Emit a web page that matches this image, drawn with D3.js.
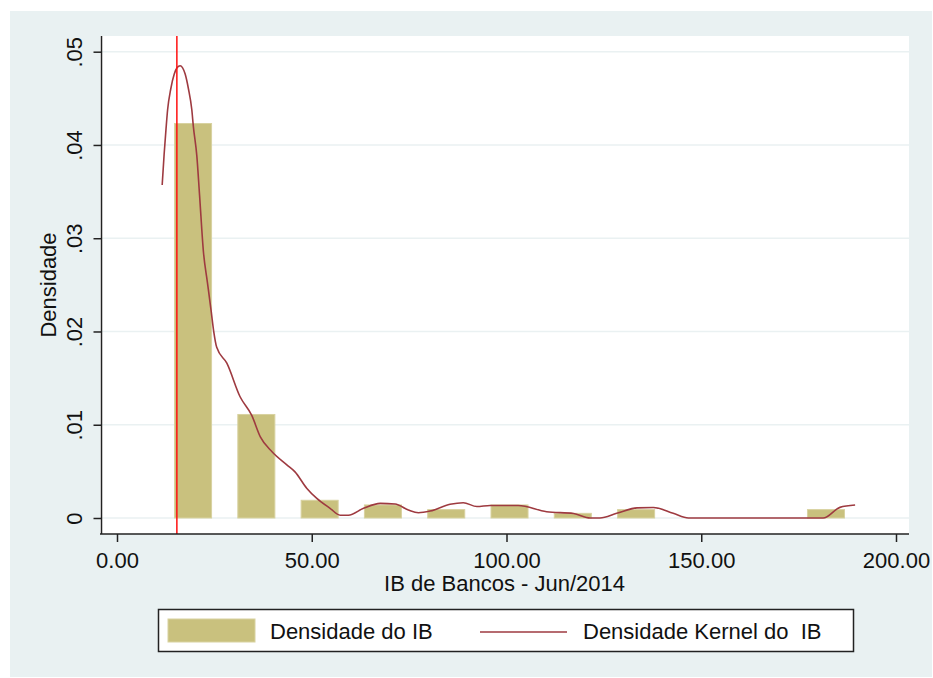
<!DOCTYPE html>
<html>
<head>
<meta charset="utf-8">
<script src="https://cdn.jsdelivr.net/npm/d3@7"></script>
<style>
  body { margin: 0; background: #fff; }
  text { font-family: Arial, "Liberation Sans", sans-serif; fill: #111; }
</style>
</head>
<body>
<div id="chart"></div>
<script>
// Histogram bins (lower edge, upper edge) and density of each bin
var binLow  = [11.40, 27.65, 43.90, 60.15, 76.40, 92.65, 108.90, 125.15, 141.40, 157.65, 173.90];
var binHigh = [27.65, 43.90, 60.15, 76.40, 92.65, 108.90, 125.15, 141.40, 157.65, 173.90, 190.15];
var binDensity = [0.0423, 0.0111, 0.0019, 0.0014, 0.0009, 0.0014, 0.0005, 0.0009, 0, 0, 0.0009];

// Kernel density estimate
var kernelX = [11.6, 12.1, 12.6, 13.0, 13.8, 14.7, 15.45, 16.2, 17.5, 18.35, 19.2, 19.6, 20.5, 21.2, 22.2,
  23.2, 24.2, 24.8, 25.6, 28.2, 31.6, 34.6, 36.8, 39.8, 43.6, 45.7, 48.7, 51.3, 54.7, 57.3, 59.4, 63.3,
  67.6, 71.4, 74.8, 77.4, 80.4, 85.5, 88.9, 92.4, 95.8, 103.0, 110.3, 117.2, 121.5, 124.0, 128.3, 133.5,
  137.7, 142.8, 146.7, 181.3, 185.6, 189.5];
var kernelY = [0.0357, 0.0390, 0.0418, 0.0438, 0.0460, 0.0476, 0.0483, 0.0485, 0.0476, 0.0460, 0.0438,
  0.0420, 0.0388, 0.0346, 0.0285, 0.0253, 0.0221, 0.0201, 0.0183, 0.0166, 0.0130, 0.0110, 0.0087,
  0.0071, 0.0057, 0.00495, 0.0032, 0.0021, 0.00104, 0.0003, 0.0003, 0.00104, 0.00157, 0.0015, 0.00086,
  0.00057, 0.00075, 0.00147, 0.00164, 0.00123, 0.00134, 0.00134, 0.00067, 0.00048, 0, 0, 0.0005,
  0.00109, 0.00112, 0.0005, 0, 0, 0.00114, 0.00139];

var refLine = 15.37;   // red vertical reference line
var xTicks = [0, 50, 100, 150, 200];
var yTicks = [0, 0.01, 0.02, 0.03, 0.04, 0.05];
var yTickLabels = ["0", ".01", ".02", ".03", ".04", ".05"];
var legendLabels = ["Densidade do IB", "Densidade Kernel do  IB"];

var W = 933, H = 678;
var plot = { left: 100, right: 909, top: 36, bottom: 534 };

var svg = d3.select("#chart").append("svg")
    .attr("width", W)
    .attr("height", H);

// outer background and plot region
svg.append("rect").attr("x", 10).attr("y", 11).attr("width", 922).attr("height", 666)
    .attr("fill", "#e9f1f2");
svg.append("rect").attr("x", plot.left).attr("y", plot.top)
    .attr("width", plot.right - plot.left).attr("height", plot.bottom - plot.top)
    .attr("fill", "#fff");

var x = d3.scaleLinear().domain([0, 200]).range([117, 896]);
var y = d3.scaleLinear().domain([0, 0.05]).range([518, 51.7]);

// gridlines
svg.append("g").selectAll("line")
    .data(yTicks)
    .enter().append("line")
    .attr("x1", plot.left).attr("x2", plot.right)
    .attr("y1", function(d) { return y(d); })
    .attr("y2", function(d) { return y(d); })
    .attr("stroke", "#eaf1f2")
    .attr("stroke-width", 1.5);

// histogram bars (gap between bars)
var barFrac = 0.585;
var bins = binDensity.map(function(d, i) { return { lo: binLow[i], hi: binHigh[i], dens: d }; })
    .filter(function(b) { return b.dens > 0; });

svg.append("g").selectAll("rect")
    .data(bins)
    .enter().append("rect")
    .attr("x", function(b) {
        var x0 = x(b.lo), x1 = x(b.hi);
        return (x0 + x1) / 2 - (x1 - x0) * barFrac / 2;
    })
    .attr("y", function(b) { return y(b.dens); })
    .attr("width", function(b) { return (x(b.hi) - x(b.lo)) * barFrac; })
    .attr("height", function(b) { return y(0) - y(b.dens); })
    .attr("fill", "#c9c17e")
    .attr("stroke", "#d8d2a0")
    .attr("stroke-width", 1);

// kernel density line
var kernel = kernelX.map(function(v, i) { return [v, kernelY[i]]; });
var line = d3.line()
    .x(function(d) { return x(d[0]); })
    .y(function(d) { return y(d[1]); })
    .curve(d3.curveMonotoneX);

svg.append("path")
    .datum(kernel)
    .attr("d", line)
    .attr("fill", "none")
    .attr("stroke", "#9e3a40")
    .attr("stroke-width", 1.6);

// red reference line
svg.append("line")
    .attr("x1", x(refLine)).attr("x2", x(refLine))
    .attr("y1", plot.top).attr("y2", plot.bottom)
    .attr("stroke", "#ff1010")
    .attr("stroke-width", 1.5);

// X axis
var xAxis = svg.append("g")
    .attr("transform", "translate(0," + plot.bottom + ")")
    .call(d3.axisBottom(x).tickValues(xTicks).tickSize(8).tickPadding(10)
        .tickFormat(function(d) { return d3.format(".2f")(d); }));
xAxis.select(".domain").remove();
xAxis.append("line").attr("x1", plot.left).attr("x2", plot.right)
    .attr("stroke", "#222").attr("stroke-width", 1.5);
xAxis.selectAll(".tick line").attr("stroke", "#222").attr("stroke-width", 1.5);
xAxis.selectAll(".tick text").style("font-size", "22px").attr("fill", "#111");

// Y axis
var yAxis = svg.append("g")
    .attr("transform", "translate(" + (plot.left + 1.5) + ",0)")
    .call(d3.axisLeft(y).tickValues(yTicks).tickSize(8)
        .tickFormat(function(d, i) { return yTickLabels[i]; }));
yAxis.select(".domain").remove();
yAxis.append("line").attr("y1", plot.top).attr("y2", plot.bottom)
    .attr("stroke", "#222").attr("stroke-width", 1.5);
yAxis.selectAll(".tick line").attr("stroke", "#222").attr("stroke-width", 1.5);
yAxis.selectAll(".tick text")
    .attr("x", null).attr("dy", null)
    .attr("text-anchor", "middle")
    .attr("transform", "translate(-20,0) rotate(-90)")
    .style("font-size", "22px")
    .attr("fill", "#111");

// axis titles
svg.append("text")
    .attr("x", (plot.left + plot.right) / 2)
    .attr("y", 591)
    .attr("text-anchor", "middle")
    .style("font-size", "22px")
    .text("IB de Bancos - Jun/2014");

svg.append("text")
    .attr("transform", "translate(56," + ((plot.top + plot.bottom) / 2) + ") rotate(-90)")
    .attr("text-anchor", "middle")
    .style("font-size", "22px")
    .text("Densidade");

// legend
var legend = svg.append("g");
legend.append("rect")
    .attr("x", 158.5).attr("y", 609.5).attr("width", 695).attr("height", 42)
    .attr("fill", "#fff").attr("stroke", "#222").attr("stroke-width", 1.5);
legend.append("rect")
    .attr("x", 168).attr("y", 619).attr("width", 87).attr("height", 23)
    .attr("fill", "#c9c17e").attr("stroke", "#d8d2a0");
legend.append("text")
    .attr("x", 270).attr("y", 639)
    .style("font-size", "22px")
    .text(legendLabels[0]);
legend.append("line")
    .attr("x1", 480).attr("x2", 567).attr("y1", 632).attr("y2", 632)
    .attr("stroke", "#9e3a40").attr("stroke-width", 1.6);
legend.append("text")
    .attr("x", 583).attr("y", 639)
    .style("font-size", "22px")
    .style("white-space", "pre")
    .attr("xml:space", "preserve")
    .text(legendLabels[1]);
</script>
</body>
</html>
